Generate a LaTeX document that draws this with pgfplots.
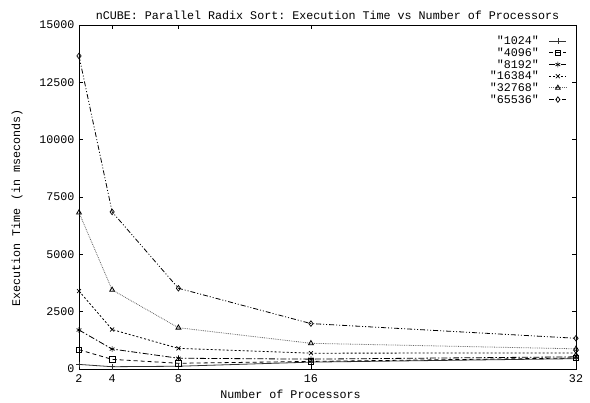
\documentclass[border=0pt]{standalone}
\usepackage{pgfplots}
\pgfplotsset{compat=1.18}
\usepackage{fontspec}
\setmonofont{Liberation Mono}
\begin{document}
\begin{tikzpicture}[font=\ttfamily\fontsize{11.7}{13}\selectfont]
\begin{axis}[
  scale only axis,
  width=497pt, height=344pt,
  xmin=2, xmax=32, ymin=0, ymax=15000,
  xtick={2,4,8,16,32},
  ytick={0,2500,5000,7500,10000,12500,15000},
  /pgf/number format/assume math mode=true,
  /pgf/number format/.cd, 1000 sep={}, /pgfplots/.cd,
  scaled y ticks=false,
  tick align=inside,
  major tick length=4pt,
  tick style={black, line width=0.6pt},
  axis line style={line width=0.9pt},
  title={nCUBE: Parallel Radix Sort: Execution Time vs Number of Processors},
  title style={yshift=-4pt},
  xlabel={Number of Processors},
  xlabel style={xshift=-37pt, yshift=-1pt},
  ylabel={Execution Time (in mseconds)},
  ylabel style={yshift=10pt, xshift=-11pt},
  yticklabel style={xshift=-1pt},
  xticklabel style={yshift=-2pt},
  legend plot pos=right,
  legend cell align=right,
  legend style={at={(1,1)}, anchor=north east, xshift=-8pt, yshift=-8pt,
    draw=none, fill=none, row sep=-2.3pt, inner sep=1pt,
    /tikz/every odd column/.append style={column sep=8pt}},
  every axis plot/.append style={line width=0.8pt, mark size=2.8pt,
    mark options={solid, line width=0.7pt}},
]
\addplot[black!80, mark=+] coordinates {(2,200) (4,100) (8,120) (16,300) (32,450)};
\addlegendentry{"1024"}
\addplot[black, mark=square, dash pattern=on 4pt off 3pt] coordinates {(2,840) (4,420) (8,250) (16,330) (32,480)};
\addlegendentry{"4096"}
\addplot[black, mark=asterisk, dash pattern=on 6pt off 2pt on 1.5pt off 2pt] coordinates {(2,1700) (4,870) (8,470) (16,430) (32,530)};
\addlegendentry{"8192"}
\addplot[black, mark=x, dash pattern=on 2pt off 2pt] coordinates {(2,3400) (4,1720) (8,900) (16,690) (32,700)};
\addlegendentry{"16384"}
\addplot[black!60, mark=triangle, mark options={solid, black, fill=black!40}, dash pattern=on 0.8pt off 1pt] coordinates {(2,6820) (4,3450) (8,1800) (16,1120) (32,880)};
\addlegendentry{"32768"}
\addplot[black, mark=diamond, dash pattern=on 5pt off 2pt on 1pt off 2pt on 1pt off 2pt] coordinates {(2,13650) (4,6850) (8,3520) (16,1980) (32,1340)};
\addlegendentry{"65536"}
\end{axis}
\pgfresetboundingbox
\path ([xshift=-79pt,yshift=-34pt]current axis.south west) rectangle ([xshift=14pt,yshift=25pt]current axis.north east);
\end{tikzpicture}
\end{document}
